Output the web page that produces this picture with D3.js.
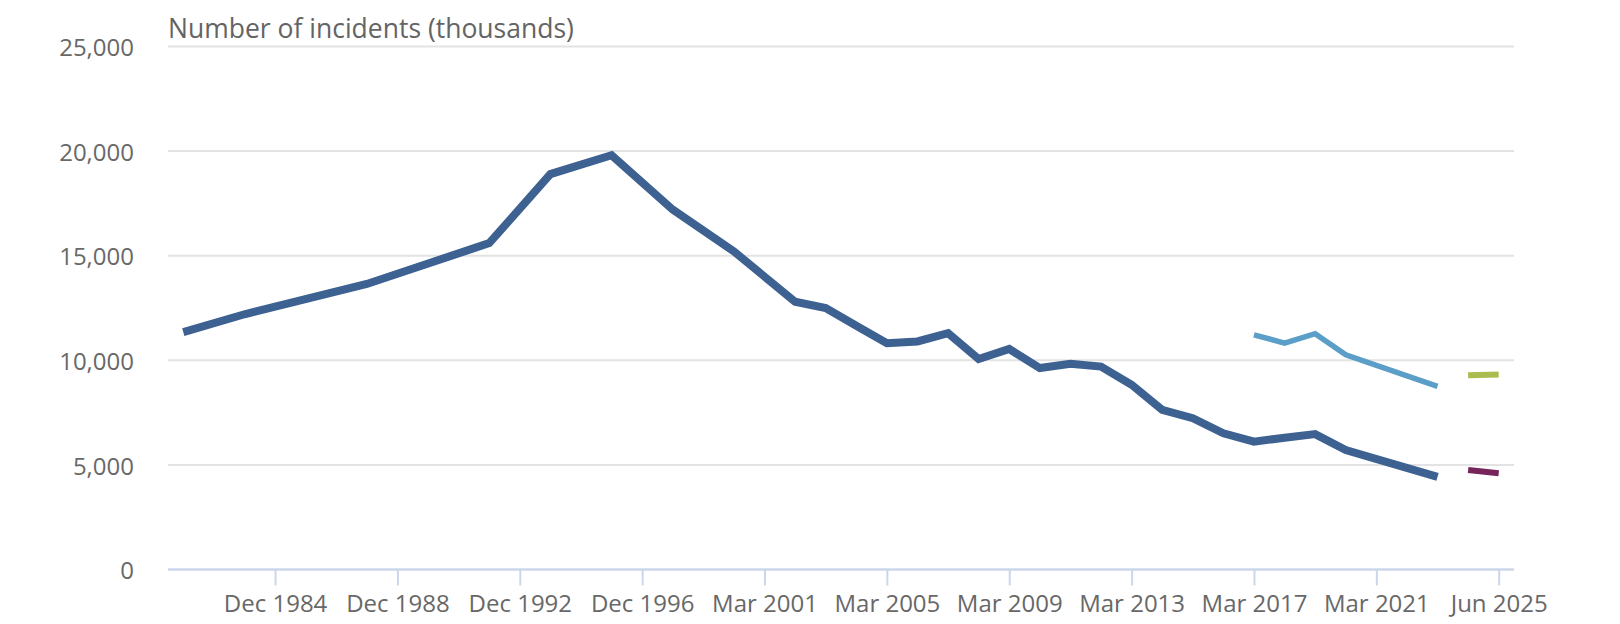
<!DOCTYPE html>
<html>
<head>
<meta charset="utf-8">
<script src="https://cdn.jsdelivr.net/npm/d3@7"></script>
<style>
  html, body { margin: 0; padding: 0; background: #fff; }
  svg { display: block; font-family: "Open Sans", sans-serif; }
</style>
</head>
<body>
<svg id="chart" width="1620" height="624"></svg>
<script>
// ---- Data (thousands of incidents) ----
const categories = [
  "Dec 1981","Dec 1982","Dec 1983","Dec 1984","Dec 1985","Dec 1986","Dec 1987","Dec 1988",
  "Dec 1989","Dec 1990","Dec 1991","Dec 1992","Dec 1993","Dec 1994","Dec 1995","Dec 1996",
  "Dec 1997","Dec 1998","Dec 1999","Mar 2001","Mar 2002","Mar 2003","Mar 2004","Mar 2005",
  "Mar 2006","Mar 2007","Mar 2008","Mar 2009","Mar 2010","Mar 2011","Mar 2012","Mar 2013",
  "Mar 2014","Mar 2015","Mar 2016","Mar 2017","Mar 2018","Mar 2019","Mar 2020","Mar 2021",
  "Mar 2022","Mar 2023","Mar 2025","Jun 2025"
];
const crimeExclFraud = [
  11350, null, 12200, null, null, null, 13650, null,
  null, null, 15600, null, 18900, null, 19800, null,
  17200, null, 15200, null, 12800, 12500, 11650, 10820,
  10900, 11300, 10060, 10540, 9630, 9830, 9700, 8830,
  7630, 7230, 6510, 6110, 6300, 6470, 5710, null,
  null, 4430, null, null
];
const crimeInclFraud = [
  null, null, null, null, null, null, null, null,
  null, null, null, null, null, null, null, null,
  null, null, null, null, null, null, null, null,
  null, null, null, null, null, null, null, null,
  null, null, null, 11220, 10820, 11270, 10260, null,
  null, 8750, null, null
];
const newInclFraud = [
  null, null, null, null, null, null, null, null,
  null, null, null, null, null, null, null, null,
  null, null, null, null, null, null, null, null,
  null, null, null, null, null, null, null, null,
  null, null, null, null, null, null, null, null,
  null, null, 9290, 9320
];
const newExclFraud = [
  null, null, null, null, null, null, null, null,
  null, null, null, null, null, null, null, null,
  null, null, null, null, null, null, null, null,
  null, null, null, null, null, null, null, null,
  null, null, null, null, null, null, null, null,
  null, null, 4760, 4600
];
const xTickLabels = ["Dec 1984","Dec 1988","Dec 1992","Dec 1996","Mar 2001","Mar 2005",
  "Mar 2009","Mar 2013","Mar 2017","Mar 2021","Jun 2025"];
const yTicks = [0, 5000, 10000, 15000, 20000, 25000];
const yTitle = "Number of incidents (thousands)";

// ---- Layout ----
const svg = d3.select("#chart");
const plotLeft = 168, plotRight = 1514, plotTop = 46.5, plotBottom = 569.5;
const textColor = "#686868";
const fontSize = 24;

const x = d3.scalePoint().domain(categories).range([plotLeft, plotRight]).padding(0.5);
const y = d3.scaleLinear().domain([0, 25000]).range([plotBottom, plotTop]);

// gridlines
svg.append("g").selectAll("line")
  .data(yTicks.filter(d => d !== 0))
  .join("line")
  .attr("x1", plotLeft).attr("x2", plotRight)
  .attr("y1", d => y(d)).attr("y2", d => y(d))
  .attr("stroke", "#e3e3e3").attr("stroke-width", 2);

// y axis labels
const yAxis = d3.axisLeft(y).tickValues(yTicks).tickSize(0).tickPadding(plotLeft - 134)
  .tickFormat(d3.format(","));
const gy = svg.append("g").attr("transform", `translate(${plotLeft},0)`).call(yAxis);
gy.select(".domain").remove();
gy.selectAll(".tick line").remove();
gy.selectAll(".tick text")
  .attr("dy", "0.38em")
  .attr("fill", textColor)
  .style("font-size", fontSize + "px")
  .style("font-family", "'Open Sans', sans-serif");

// x axis
const xAxis = d3.axisBottom(x).tickValues(xTickLabels).tickSize(16).tickPadding(9).tickSizeOuter(0);
const gx = svg.append("g").attr("transform", `translate(0,${plotBottom})`).call(xAxis);
gx.select(".domain").attr("d", `M${plotLeft},0H${plotRight}`).attr("stroke", "#ccd6eb").attr("stroke-width", 2.5);
gx.selectAll(".tick line").attr("stroke", "#ccd6eb").attr("stroke-width", 2);
gx.selectAll(".tick text")
  .attr("fill", textColor)
  .style("font-size", fontSize + "px")
  .style("font-family", "'Open Sans', sans-serif");

// title
svg.append("text")
  .attr("x", plotLeft).attr("y", 38)
  .attr("fill", "#646464")
  .style("font-size", "26.5px")
  .style("font-family", "'Open Sans', sans-serif")
  .text(yTitle);

// lines
const series = [
  { values: crimeExclFraud, color: "#3d6191", width: 8 },
  { values: crimeInclFraud, color: "#5b9ec8", width: 5.5 },
  { values: newInclFraud, color: "#a9bc4f", width: 6 },
  { values: newExclFraud, color: "#76245a", width: 6 }
];
const line = d3.line().x(d => x(d.cat)).y(d => y(d.v));
series.forEach(s => {
  const pts = categories.map((c, i) => ({ cat: c, v: s.values[i] })).filter(d => d.v !== null);
  svg.append("path")
    .datum(pts)
    .attr("d", line)
    .attr("fill", "none")
    .attr("stroke", s.color)
    .attr("stroke-width", s.width)
    .attr("stroke-linejoin", "miter")
    .attr("stroke-linecap", "butt");
});
</script>
</body>
</html>
